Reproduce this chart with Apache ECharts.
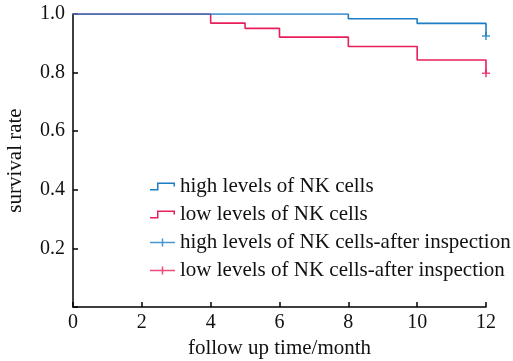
<!DOCTYPE html>
<html><head><meta charset="utf-8">
<script src="https://cdn.jsdelivr.net/npm/echarts@6/dist/echarts.min.js"></script>
<style>html,body{margin:0;padding:0;background:#fff}#c{width:513px;height:361px}</style>
</head><body><div id="c"></div>
<script>
// Kaplan-Meier step data (time in months, survival rate)
const highTimes = [0, 8, 10, 12];
const highRates = [1.0, 0.984, 0.968, 0.925];
const lowTimes = [0, 4, 5, 6, 8, 10, 12];
const lowRates = [1.0, 0.969, 0.951, 0.921, 0.889, 0.843, 0.798];
const highCensor = [[12, 0.925]];
const lowCensor = [[12, 0.798]];
const xTicks = [0, 2, 4, 6, 8, 10, 12];
const yTicks = [0.2, 0.4, 0.6, 0.8, 1.0];
const names = ['high levels of NK cells', 'low levels of NK cells',
  'high levels of NK cells-after inspection', 'low levels of NK cells-after inspection'];

const BLUE = '#1c7cc4', RED = '#e71f5a';
const FONT = '"Liberation Serif", "DejaVu Serif", serif';
const stepIcon = 'path://M0,6.5H7V0H25V4H23.5V1.5H8.5V8H0Z';
const plusIcon = 'path://M0,3.25H11.75V0H13.25V3.25H25V4.75H13.25V8H11.75V4.75H0Z';
const plusSym = 'path://M0,3.2H3.2V0H4.8V3.2H8V4.8H4.8V8H3.2V4.8H0Z';

const zip = (a, b) => a.map((v, i) => [v, b[i]]);
const chart = echarts.init(document.getElementById('c'), null, {renderer: 'canvas'});
chart.setOption({
  animation: false,
  backgroundColor: '#fff',
  grid: {left: 73, right: 27, top: 14, bottom: 54, containLabel: false, outerBoundsMode: 'none'},
  legend: {
    orient: 'vertical', left: 145, top: 171, itemGap: 7,
    itemWidth: 25, itemHeight: 8,
    textStyle: {fontFamily: FONT, fontSize: 21, color: '#111'},
    data: [
      {name: names[0], icon: stepIcon},
      {name: names[1], icon: stepIcon},
      {name: names[2], icon: plusIcon},
      {name: names[3], icon: plusIcon}
    ]
  },
  xAxis: {
    type: 'value', min: 0, max: 12, interval: 2,
    name: 'follow up time/month', nameLocation: 'middle', nameGap: 31,
    nameTextStyle: {fontFamily: FONT, fontSize: 21, color: '#111'},
    axisLine: {lineStyle: {color: '#000', width: 1.5}},
    axisTick: {inside: true, length: 5, lineStyle: {color: '#000', width: 1.5}},
    axisLabel: {fontFamily: FONT, fontSize: 20, color: '#111', margin: 6,
      formatter: v => xTicks.includes(v) ? String(v) : ''},
    splitLine: {show: false}
  },
  yAxis: {
    type: 'value', min: 0, max: 1, interval: 0.2,
    name: 'survival rate', nameLocation: 'middle', nameGap: 47,
    nameTextStyle: {fontFamily: FONT, fontSize: 21, color: '#111'},
    axisLine: {show: true, lineStyle: {color: '#000', width: 1.5}},
    axisTick: {show: true, inside: true, length: 5, lineStyle: {color: '#000', width: 1.5}},
    axisLabel: {fontFamily: FONT, fontSize: 20, color: '#111', margin: 8,
      formatter: v => yTicks.some(t => Math.abs(t - v) < 1e-9) ? v.toFixed(1) : ''},
    splitLine: {show: false}
  },
  series: [
    {name: names[0], type: 'line', step: 'end', data: zip(highTimes, highRates),
      symbol: 'none', color: BLUE, lineStyle: {color: BLUE, width: 1.6}, z: 3},
    {name: names[1], type: 'line', step: 'end', data: zip(lowTimes, lowRates),
      symbol: 'none', color: RED, lineStyle: {color: RED, width: 1.6}, z: 2},
    {name: names[2], type: 'scatter', data: highCensor, symbol: plusSym, symbolSize: 8,
      color: BLUE, itemStyle: {color: BLUE}, z: 4},
    {name: names[3], type: 'scatter', data: lowCensor, symbol: plusSym, symbolSize: 8,
      color: RED, itemStyle: {color: RED}, z: 4}
  ]
});
</script></body></html>
